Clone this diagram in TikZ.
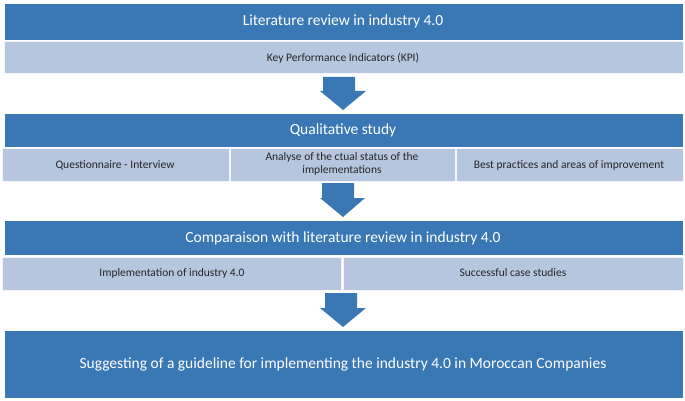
\documentclass[tikz,border=0pt]{standalone}
\usepackage{fontspec}
\setmainfont{Carlito}
\definecolor{bb}{HTML}{3A78B5}
\definecolor{lb}{HTML}{B5C6DE}
\begin{document}
\begin{tikzpicture}[x=1pt,y=-1pt,
 bar/.style={fill=bb,draw=white,line width=0.8pt,text=white},
 sub/.style={fill=lb,draw=white!85!lb,line width=1pt,text=black!85,font=\fontsize{11.5}{12.5}\selectfont,align=center},
 ttl/.style={text=white,font=\fontsize{15.5}{17}\selectfont},
 arr/.style={fill=bb,draw=none}]
\useasboundingbox (0,0) rectangle (685,401);
\path[bar] (4,3) rectangle (683,40);
\node[ttl] (t1) at (343,21) {Literature review in industry 4.0};
\path[sub] (4,42) rectangle (683,74);
\node[sub,draw=none,fill=none] (k) at (343,58) {Key Performance Indicators (KPI)};
\path[arr] (323,77) -- (355,77) -- (355,91) -- (366,91) -- (343,110) -- (320,91) -- (323,91) -- cycle;
\path[bar] (4,113) rectangle (683,147);
\node[ttl] (t2) at (343,130) {Qualitative study};
\path[sub] (2,148) rectangle (229,181);
\path[sub] (230,148) rectangle (455,181);
\path[sub] (456,148) rectangle (683,181);
\node[sub,draw=none,fill=none] (q1) at (115,165) {Questionnaire - Interview};
\node[sub,draw=none,fill=none] (q2) at (342,164) {Analyse of the ctual status of the\\implementations};
\node[sub,draw=none,fill=none] (q3) at (569,165) {Best practices and areas of improvement};
\path[arr] (322,183) -- (354,183) -- (354,198) -- (365,198) -- (343,217) -- (320,198) -- (322,198) -- cycle;
\path[bar] (4,220) rectangle (683,255);
\node[ttl] (t3) at (343,238) {Comparaison with literature review in industry 4.0};
\path[sub] (2,257) rectangle (341,290);
\path[sub] (343,257) rectangle (683,290);
\node[sub,draw=none,fill=none] (c1) at (172,273) {Implementation of industry 4.0};
\node[sub,draw=none,fill=none] (c2) at (513,273) {Successful case studies};
\path[arr] (325,293) -- (357,293) -- (357,308) -- (366,308) -- (343,327) -- (320,308) -- (325,308) -- cycle;
\path[bar] (4,330) rectangle (683,398);
\node[ttl] (t4) at (343,364) {Suggesting of a guideline for implementing the industry 4.0 in Moroccan Companies};
\end{tikzpicture}
\end{document}
